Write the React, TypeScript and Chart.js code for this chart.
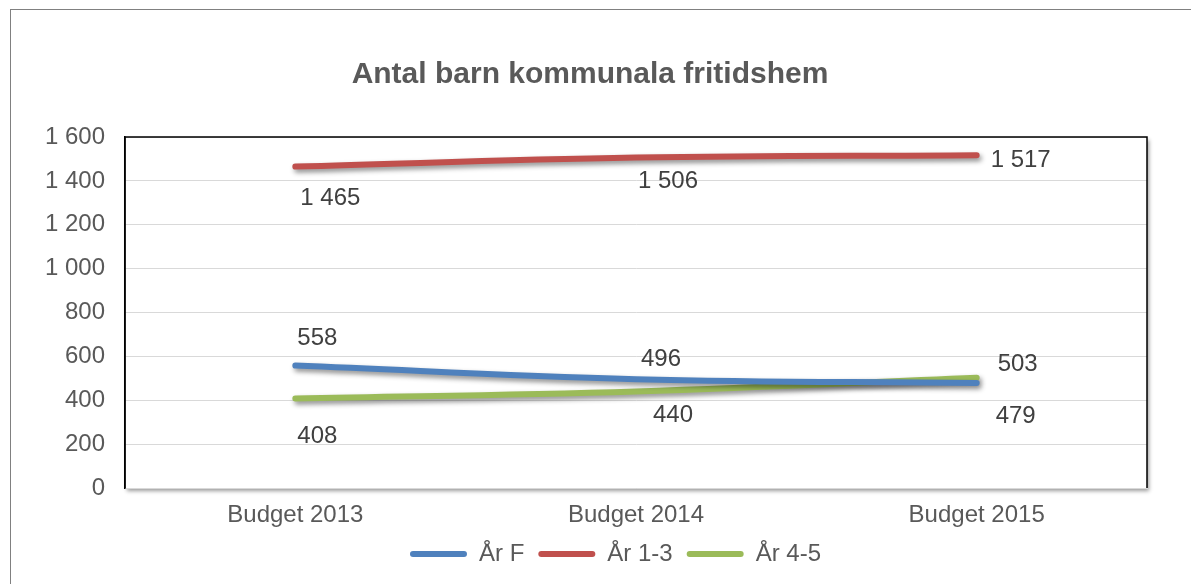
import React, { useEffect, useRef } from "react";
import { Chart, registerables } from "chart.js";

Chart.register(...registerables);

const chartTitle = "Antal barn kommunala fritidshem";
const categories = ["Budget 2013", "Budget 2014", "Budget 2015"];
const seriesNames = ["År F", "År 1-3", "År 4-5"];
const arF = [558, 496, 479];
const ar13 = [1465, 1506, 1517];
const ar45 = [408, 440, 503];
const yTicks = [0, 200, 400, 600, 800, 1000, 1200, 1400, 1600];

const colors = ["#4f81bd", "#c0504d", "#9bbb59"];
// label offsets (dx, dy) relative to each point
const labelOffsets = [
  [[22, -27], [25, -20], [39, 33]],
  [[35, 32], [32, 24], [44, 5]],
  [[22, 38], [37, 24], [41, -13]],
];

const fmt = (v: number) => {
  const s = String(Math.round(v));
  return s.replace(/\B(?=(\d{3})+(?!\d))/g, " ");
};

const FONT = "'Liberation Sans', Arial, sans-serif";

const framePlugin = {
  id: "frame",
  afterLayout(chart: any) {
    const lg = chart.legend;
    if (lg) {
      lg.left += 38;
      lg.right += 38;
      lg.top -= 8;
      lg.bottom -= 8;
    }
  },
  beforeDraw(chart: any) {
    const { ctx, chartArea: a } = chart;
    ctx.save();
    ctx.fillStyle = "#fff";
    ctx.fillRect(0, 0, chart.width, chart.height);
    ctx.strokeStyle = "#808080";
    ctx.lineWidth = 1;
    ctx.strokeRect(2.5, 1.5, chart.width + 10, chart.height + 10);
    // title
    ctx.font = `bold 30px ${FONT}`;
    ctx.fillStyle = "#595959";
    ctx.textAlign = "center";
    ctx.textBaseline = "alphabetic";
    ctx.fillText(chartTitle, 582, 75);
    ctx.shadowColor = "rgba(0,0,0,0.4)";
    ctx.shadowBlur = 4;
    ctx.shadowOffsetX = 2;
    ctx.shadowOffsetY = 3;
    ctx.fillStyle = "#fff";
    ctx.fillRect(a.left, a.top, a.right - a.left, a.bottom - a.top);
    ctx.restore();
  },
  beforeDatasetsDraw(chart: any) {
    const { ctx, chartArea: a } = chart;
    ctx.save();
    ctx.strokeStyle = "#000";
    ctx.lineWidth = 1.5;
    ctx.beginPath();
    ctx.moveTo(a.left, a.bottom);
    ctx.lineTo(a.left, a.top);
    ctx.lineTo(a.right, a.top);
    ctx.lineTo(a.right, a.bottom);
    ctx.stroke();
    ctx.restore();
  },
  beforeDatasetDraw(chart: any) {
    const ctx = chart.ctx;
    ctx.save();
    ctx.shadowColor = "rgba(0,0,0,0.45)";
    ctx.shadowBlur = 5;
    ctx.shadowOffsetX = 2;
    ctx.shadowOffsetY = 3;
  },
  afterDatasetDraw(chart: any) {
    chart.ctx.restore();
  },
  afterDatasetsDraw(chart: any) {
    const ctx = chart.ctx;
    ctx.save();
    ctx.font = `24px ${FONT}`;
    ctx.fillStyle = "#404040";
    ctx.textAlign = "center";
    ctx.textBaseline = "middle";
    chart.data.datasets.forEach((ds: any, i: number) => {
      const meta = chart.getDatasetMeta(i);
      meta.data.forEach((pt: any, j: number) => {
        const [dx, dy] = labelOffsets[i][j];
        ctx.fillText(fmt(ds.data[j]), pt.x + dx, pt.y + dy);
      });
    });
    ctx.restore();
  },
};

export default function App() {
  const ref = useRef<HTMLCanvasElement | null>(null);
  useEffect(() => {
    if (!ref.current) return;
    const series = [arF, ar13, ar45];
    const chart = new Chart(ref.current, {
      type: "line",
      data: {
        labels: categories,
        datasets: series.map((d, i) => ({
          label: seriesNames[i],
          data: d,
          borderColor: colors[i],
          backgroundColor: colors[i],
          borderWidth: 6,
          borderCapStyle: "round",
          borderJoinStyle: "round",
          tension: 0.4,
          pointRadius: 0,
          pointHoverRadius: 0,
          fill: false,
        })),
      },
      options: {
        animation: false,
        responsive: true,
        maintainAspectRatio: false,
        layout: { padding: { left: 0, right: 52, top: 129, bottom: 0 } },
        plugins: {
          title: { display: false },
          legend: {
            position: "bottom",
            labels: {
              color: "#595959",
              font: { family: FONT, size: 24 },
              boxWidth: 57,
              boxHeight: 6,
              padding: 14,
              useBorderRadius: true,
              borderRadius: 3,
              generateLabels: (c: any) =>
                Chart.defaults.plugins.legend.labels
                  .generateLabels(c)
                  .map((l: any) => ({ ...l, lineWidth: 0 })),
            },
          },
          tooltip: { enabled: false },
        },
        scales: {
          x: {
            offset: true,
            grid: { display: false, drawTicks: false },
            border: { display: true, color: "#d9d9d9", width: 1 },
            ticks: {
              color: "#595959",
              font: { family: FONT, size: 24 },
              padding: 13,
            },
            afterFit: (s: any) => {
              s.height = 48;
            },
          },
          y: {
            min: 0,
            max: 1600,
            afterBuildTicks: (s: any) => {
              s.ticks = yTicks.map((v) => ({ value: v }));
            },
            grid: { color: "#d9d9d9", lineWidth: 1, drawTicks: false },
            border: { display: true, color: "#000", width: 1.5 },
            ticks: {
              color: "#595959",
              font: { family: FONT, size: 24 },
              padding: 20,
              callback: (v: any) => fmt(Number(v)),
            },
            afterFit: (s: any) => {
              s.width = 117;
            },
          },
        },
      },
      plugins: [framePlugin],
    } as any);
    return () => chart.destroy();
  }, []);
  return (
    <div style={{ width: 1191, height: 576, position: "relative" }}>
      <canvas ref={ref} />
    </div>
  );
}
